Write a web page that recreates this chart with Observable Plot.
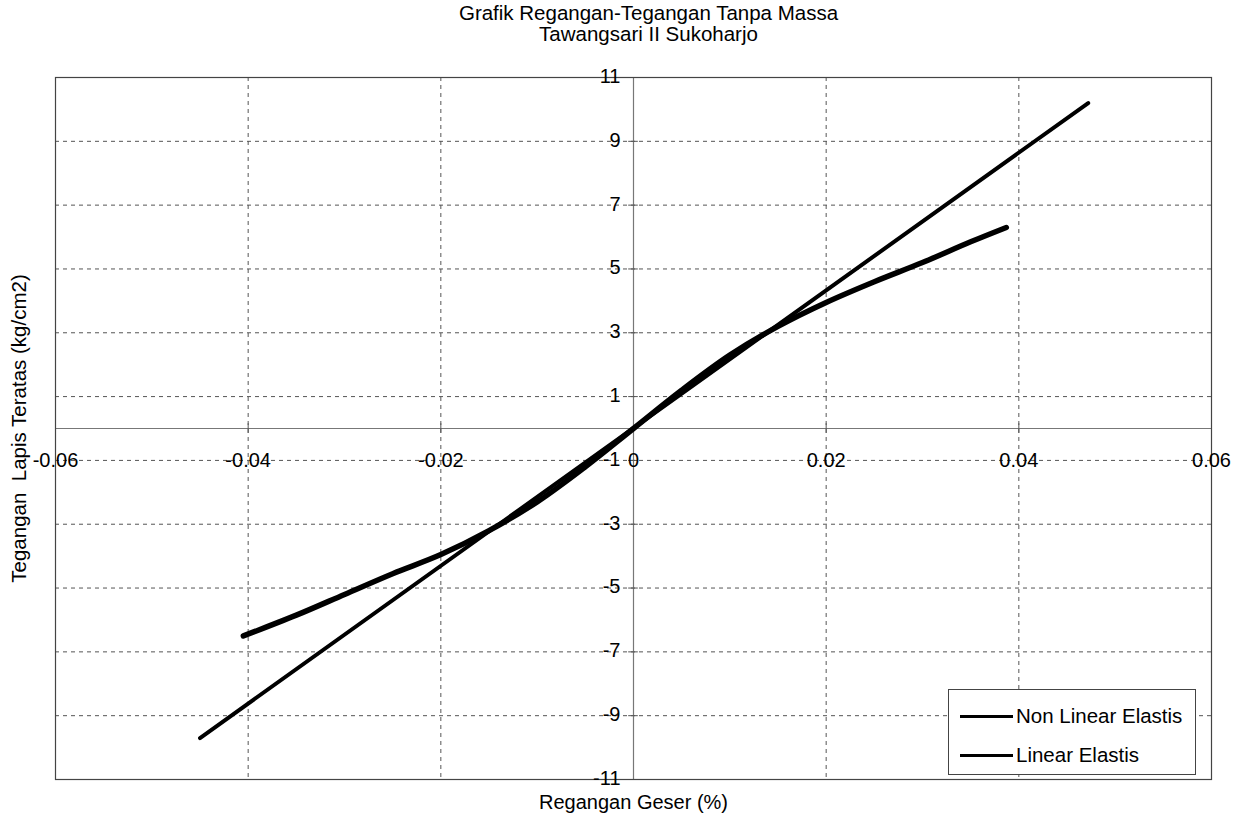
<!DOCTYPE html>
<html>
<head>
<meta charset="utf-8">
<script src="https://cdn.jsdelivr.net/npm/d3@7"></script>
<script src="https://cdn.jsdelivr.net/npm/@observablehq/plot@0.6"></script>
<style>
  html, body { margin: 0; padding: 0; background: #fff; }
  body { width: 1249px; height: 819px; position: relative; overflow: hidden;
         font-family: "Liberation Sans", Arial, sans-serif; color: #000; }
  #title { position: absolute; left: 0; top: 0; width: 1249px; height: 50px;
           text-align: center; font-size: 20.5px; line-height: 21px; padding-top: 2px; box-sizing: border-box; }
  #title div { position: relative; left: 24px; }
  #chart { position: absolute; left: 0; top: 50px; }
  #legend { position: absolute; left: 948px; top: 689px; width: 248px; height: 86px;
            border: 1px solid #444; box-sizing: border-box; background: #fff; }
  .row { position: absolute; left: 11px; height: 24px; display: flex; align-items: center; font-size: 20.5px; }
  .swatch { width: 53px; height: 0; border-top: 3px solid #000; margin-right: 3px; }
</style>
</head>
<body>
<div id="title"><div>Grafik Regangan-Tegangan Tanpa Massa</div><div>Tawangsari II Sukoharjo</div></div>
<div id="chart"></div>
<div id="legend"></div>
<script>
// ---- data ----
const seriesNames = ["Non Linear Elastis", "Linear Elastis"];
const nonLinearStrain = [-0.0405, -0.035, -0.03, -0.025, -0.02, -0.015, -0.01, -0.005, 0, 0.005, 0.01, 0.015, 0.02, 0.025, 0.03, 0.035, 0.0387];
const nonLinearStress = [-6.5, -5.85, -5.2, -4.55, -3.95, -3.2, -2.3, -1.2, 0, 1.2, 2.3, 3.2, 3.95, 4.6, 5.2, 5.85, 6.3];
const linearStrain = [-0.045, 0.0472];
const linearStress = [-9.7, 10.2];
const xTicks = [-0.06, -0.04, -0.02, 0, 0.02, 0.04, 0.06];
const xTickLabels = ["-0.06", "-0.04", "-0.02", "0", "0.02", "0.04", "0.06"];
const yTicks = [11, 9, 7, 5, 3, 1, -1, -3, -5, -7, -9, -11];
const yTickLabels = ["11", "9", "7", "5", "3", "1", "-1", "-3", "-5", "-7", "-9", "-11"];
const xGrid = [-0.04, -0.02, 0.02, 0.04];
const yGrid = [9, 7, 5, 3, 1, -1, -3, -5, -7, -9];
const title = "Grafik Regangan-Tegangan Tanpa Massa";
const subtitle = "Tawangsari II Sukoharjo";
const xLabel = "Regangan Geser (%)";
const yLabel = "Tegangan  Lapis Teratas (kg/cm2)";

const nonLinear = nonLinearStrain.map((x, i) => ({x, y: nonLinearStress[i]}));
const linear = linearStrain.map((x, i) => ({x, y: linearStress[i]}));
const xt = xTicks.map((v, i) => ({v, label: xTickLabels[i]}));
const yt = yTicks.map((v, i) => ({v, label: yTickLabels[i]}));

const chart = Plot.plot({
  width: 1249,
  height: 769,
  marginTop: 27,
  marginBottom: 40,
  marginLeft: 55,
  marginRight: 38,
  x: {domain: [-0.06, 0.06], axis: null},
  y: {domain: [-11, 11], axis: null},
  style: {fontFamily: "'Liberation Sans', Arial, sans-serif", fontSize: "20px", color: "#000", background: "#fff", overflow: "visible"},
  marks: [
    Plot.ruleX(xGrid, {stroke: "#555", strokeDasharray: "4,4", strokeWidth: 1}),
    Plot.ruleY(yGrid, {stroke: "#555", strokeDasharray: "4,4", strokeWidth: 1}),
    Plot.ruleX([0], {stroke: "#777", strokeWidth: 1.2}),
    Plot.ruleY([0], {stroke: "#777", strokeWidth: 1.2}),
    Plot.ruleY(yGrid, {y: d => d, x1: -0.0005, x2: 0.0005, stroke: "#555"}),
    Plot.ruleX(xGrid, {x: d => d, y1: -0.15, y2: 0.15, stroke: "#555"}),
    Plot.frame({stroke: "#444", strokeWidth: 1.2}),
    Plot.line(linear, {x: "x", y: "y", stroke: "#000", strokeWidth: 4, strokeLinecap: "round"}),
    Plot.line(nonLinear, {x: "x", y: "y", stroke: "#000", strokeWidth: 5.5, curve: "catmull-rom", strokeLinecap: "round"}),
    Plot.text(xt, {x: "v", y: 0, dy: 32, text: "label", fill: "#000", fontSize: 20}),
    Plot.text(yt, {x: 0, y: "v", dx: -13, dy: -1, text: "label", textAnchor: "end", fill: "#000", fontSize: 20}),
    Plot.text([xLabel], {frameAnchor: "bottom", dy: 29, text: d => d, textAnchor: "middle", fill: "#000", fontSize: 20}),
    Plot.text([yLabel], {frameAnchor: "left", dx: -36, rotate: -90, textAnchor: "middle", text: d => d, fill: "#000", fontSize: 20.5})
  ]
});
document.getElementById("chart").appendChild(chart);

const legend = document.getElementById("legend");
seriesNames.forEach((name, i) => {
  const row = document.createElement("div");
  row.className = "row";
  row.style.top = (14 + i * 39) + "px";
  const sw = document.createElement("div");
  sw.className = "swatch";
  const tx = document.createElement("span");
  tx.textContent = name;
  row.appendChild(sw);
  row.appendChild(tx);
  legend.appendChild(row);
});
</script>
</body>
</html>
